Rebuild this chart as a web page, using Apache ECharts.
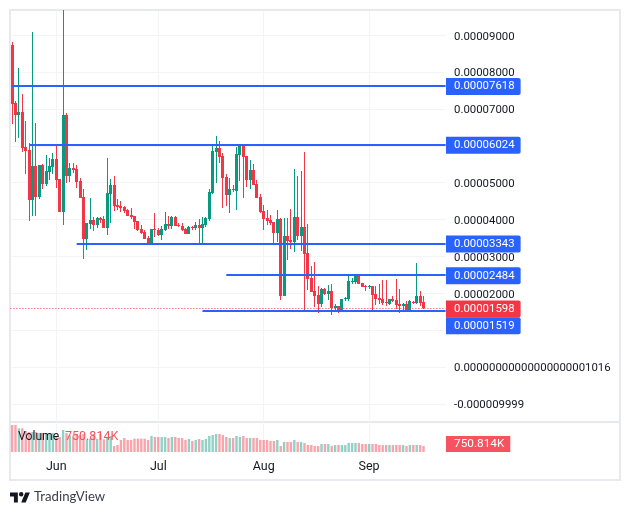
<!DOCTYPE html>
<html><head><meta charset="utf-8">
<style>html,body{margin:0;padding:0;background:#fff}#c{width:630px;height:515px}</style>
<script src="https://cdn.jsdelivr.net/npm/echarts@6/dist/echarts.min.js"></script>
</head><body><div id="c"></div>
<script>
// All prices are in units of 0.00001
const candleOpen=[8.73,7.16,6.84,6.92,5.97,5.89,4.53,5.45,4.61,5.48,4.96,5.29,5.42,5.64,5.10,4.20,6.84,5.18,5.40,5.37,5.05,4.61,3.47,3.88,3.99,3.85,4.04,4.01,3.77,4.69,4.94,4.39,4.37,4.34,4.26,4.12,4.10,3.96,3.74,3.66,3.50,3.34,3.74,3.72,3.58,3.72,3.88,3.82,4.07,3.85,3.82,3.74,3.61,3.80,3.77,3.85,3.77,3.85,4.01,4.72,5.83,5.94,5.72,5.15,4.67,4.83,4.77,5.75,6.02,5.72,5.07,5.34,4.96,4.61,4.23,4.04,3.99,3.93,3.63,4.01,1.93,3.55,3.44,3.39,4.07,3.55,3.80,3.09,2.41,2.06,1.95,1.71,2.12,1.98,2.06,1.60,1.65,1.52,1.84,1.84,2.31,2.31,2.47,2.28,2.20,2.17,2.20,1.98,1.87,1.84,1.76,1.71,1.84,1.82,1.71,1.65,1.71,1.49,1.76,1.74,1.93,1.76];
const candleClose=[7.14,6.84,6.92,5.94,5.86,4.53,5.45,4.61,5.48,4.96,5.32,5.45,5.64,5.07,4.20,6.84,5.18,5.40,5.34,5.02,4.58,3.47,3.91,3.99,3.85,4.04,3.99,3.77,4.72,4.94,4.37,4.34,4.31,4.23,4.10,4.07,3.93,3.72,3.63,3.47,3.34,3.74,3.72,3.58,3.74,3.88,3.82,4.07,3.82,3.82,3.72,3.61,3.80,3.77,3.85,3.77,3.88,4.04,4.75,5.86,5.94,5.70,5.13,4.67,4.83,4.80,5.78,6.02,5.70,5.07,5.34,4.94,4.58,4.20,4.01,3.96,3.91,3.63,4.01,1.93,3.55,3.42,3.39,4.07,3.55,3.80,3.07,2.39,2.03,1.93,1.71,2.12,1.98,2.06,1.60,1.65,1.52,1.84,1.87,2.33,2.33,2.47,2.25,2.17,2.17,2.20,1.95,1.84,1.82,1.74,1.74,1.84,1.79,1.68,1.65,1.71,1.49,1.79,1.74,1.93,1.74,1.598];
const candleLow=[6.59,6.10,6.21,5.83,5.24,3.96,4.10,4.10,4.56,4.83,4.91,5.07,5.24,4.86,4.20,3.85,4.99,5.02,5.26,4.86,4.58,2.93,3.17,3.74,3.69,3.77,3.91,3.77,3.58,3.91,4.23,4.26,4.20,4.18,4.10,4.01,3.74,3.69,3.61,3.47,3.31,3.34,3.53,3.55,3.44,3.69,3.74,3.74,3.82,3.80,3.69,3.61,3.61,3.72,3.72,3.34,3.34,3.80,3.96,4.69,4.99,5.53,4.31,4.37,4.18,4.75,4.26,5.05,4.58,4.88,4.83,4.94,4.58,4.18,3.72,3.85,3.85,3.36,3.39,1.82,1.93,2.90,3.20,3.12,3.44,3.15,1.52,2.09,2.03,1.63,1.46,1.63,1.95,1.82,1.41,1.52,1.46,1.52,1.79,1.79,2.25,2.25,2.25,2.17,2.06,2.12,1.52,1.68,1.71,1.68,1.65,1.68,1.76,1.57,1.46,1.52,1.49,1.49,1.71,1.71,1.65,1.57];
const candleHigh=[8.82,7.22,8.11,7.41,6.67,6.08,9.09,6.62,5.48,5.51,5.75,5.67,5.80,6.05,5.10,9.68,6.89,5.53,5.53,5.48,5.13,4.83,3.91,4.58,4.07,4.07,4.07,4.10,5.67,5.10,5.18,4.56,4.50,4.37,4.29,4.31,4.10,3.96,3.85,3.72,3.55,3.74,4.18,3.77,3.82,4.20,4.10,4.10,4.10,3.91,3.91,3.77,3.82,3.82,3.93,4.01,4.07,4.07,4.83,5.99,6.27,6.13,5.80,5.24,5.13,4.94,5.97,6.05,6.02,5.72,5.61,5.51,5.07,4.69,4.39,4.26,4.12,3.93,4.26,4.04,4.04,4.04,4.29,5.37,5.18,5.32,5.83,3.88,2.74,2.85,2.20,2.14,2.14,2.22,2.25,1.71,1.65,1.84,1.90,2.47,2.41,2.50,2.50,2.28,2.22,2.22,2.20,2.20,2.25,2.36,2.36,1.84,1.93,2.39,2.12,1.74,1.79,1.82,1.79,2.82,2.06,1.93];
// Volume in thousands
const volume=[3375,3375,2960,2960,2625,2500,2500,2500,2375,2375,2375,2375,2375,2000,1875,2750,2375,2085,2085,2290,2085,2250,1585,1670,2250,1670,2250,1585,1875,2000,750,875,1500,1750,1500,1500,1670,1670,1670,1670,1500,2000,1875,1875,1875,1875,1750,1875,1875,1750,1750,1500,1625,1375,1500,1625,1500,1625,2000,2125,2250,2250,2125,1875,1750,1750,2000,1875,2000,1750,1750,1750,1750,1500,1500,1500,1375,1375,1500,750,1250,1250,1250,1500,1250,1250,1125,875,875,750,750,1000,1000,1000,750,875,875,875,875,1125,1125,1125,1125,1000,1000,1000,1000,1000,875,875,875,875,875,875,875,875,750,875,875,875,875,750.814];
const yTickValues=[-1,0,1,2,3,4,5,6,7,8,9];
const yTickLabels=["-0.000009999","0.00000000000000000001016","0.00001000","0.00002000","0.00003000","0.00004000","0.00005000","0.00006000","0.00007000","0.00008000","0.00009000"];
const levelValues=[7.618,6.024,3.343,2.484,1.519];
const levelStart=[0.2,5,18.6,62.6,55.6];
const levelLabelShift=[0,0,0,0,14.5];
const lastPrice=1.598;
const lastVolumeLabel="750.814K";
const categoryCount=128;
const monthFirst={"6-1":"Jun","7-1":"Jul","8-1":"Aug","9-1":"Sep"};

const categories=[];
for(let i=0;i<categoryCount;i++){const d=new Date(Date.UTC(2024,4,19+i));categories.push((d.getUTCMonth()+1)+"-"+d.getUTCDate());}
const isMonth=(i,v)=>!!monthFirst[v];
const UP="#089981",DOWN="#f23645",BLUE="#2962ff",INK="#131722",GRID="#f3f4f6",BORDER="#e8e8ef",VOLRED="#f7525f";
const FONT="Roboto",TICK_FONT="11.4px Roboto";
const ohlcRows=candleOpen.map((o,i)=>[i,o,candleClose[i],candleLow[i],candleHigh[i]]);

echarts.graphic.registerShape("tvlogo",echarts.graphic.extendPath("M14 22H7V11H0V4h14v18zM28 22h-8l7.5-18h8L28 22zM24 7a4 4 0 1 1-8 0 4 4 0 0 1 8 0z",{}));

function renderCandle(params,api){
 const i=api.value(0),o=api.value(1),c=api.value(2),l=api.value(3),h=api.value(4);
 const col=Math.floor(api.coord([i,o])[0]);
 const yO=Math.round(api.coord([i,o])[1]),yC=Math.round(api.coord([i,c])[1]);
 const yH=Math.round(api.coord([i,h])[1]),yL=Math.round(api.coord([i,l])[1]);
 const top=Math.min(yO,yC),bodyH=Math.max(Math.abs(yO-yC),1);
 const color=c>=o?UP:DOWN;
 return {type:"group",children:[
  {type:"rect",shape:{x:col,y:yH,width:1,height:Math.max(yL-yH,1)},style:{fill:color}},
  {type:"rect",shape:{x:col-1,y:top,width:3,height:bodyH},style:{fill:color}}
 ]};
}

const levelRows=levelValues.map((v,i)=>[Math.floor(levelStart[i]),v]).concat([[0,lastPrice]]);
function renderLevel(params,api){
 const i=params.dataIndex,cs=params.coordSys,isLast=i===levelValues.length;
 const v=api.value(1),pt=api.coord([isLast?0:levelStart[i],v]);
 const right=cs.x+cs.width,y=isLast?Math.round(pt[1])+0.5:Math.round(pt[1]);
 const color=isLast?DOWN:BLUE;
 return {type:"group",children:[
  {type:"line",shape:{x1:isLast?cs.x:pt[0],y1:y,x2:right,y2:y},
   style:{stroke:color,lineWidth:isLast?1:2,lineDash:isLast?[1,2]:null}},
  {type:"text",x:right+0.4,y:pt[1]+(isLast?1:levelLabelShift[i]+0.3),z2:10,
   style:{text:(v/1e5).toFixed(8),fill:"#fff",font:TICK_FONT,backgroundColor:color,lineHeight:12,
    padding:[4,6,1,8],borderRadius:[0,2,2,0],verticalAlign:"middle",align:"left"}}
 ]};
}
function renderVolumeLabel(params,api){
 const pt=api.coord([api.value(0),api.value(1)]),cs=params.coordSys;
 return {type:"text",x:cs.x+cs.width+0.4,y:pt[1]-2,
  style:{text:lastVolumeLabel,fill:"#fff",font:"11.8px Roboto",backgroundColor:VOLRED,lineHeight:12,
   padding:[3,6,1,8],verticalAlign:"middle",align:"left"}};
}

const chart=echarts.init(document.getElementById("c"),null,{renderer:"canvas"});
chart.setOption({
 animation:false,
 backgroundColor:"#fff",
 grid:[
  {left:10.4,right:184.4,top:11,height:411},
  {left:10.4,right:184.4,top:424,height:32}
 ],
 xAxis:[
  {type:"category",gridIndex:0,data:categories,boundaryGap:true,axisLine:{show:false},axisTick:{show:false},axisLabel:{show:false},
   splitLine:{show:true,interval:isMonth,alignWithLabel:true,lineStyle:{color:GRID,width:1}}},
  {type:"category",gridIndex:1,data:categories,boundaryGap:true,axisLine:{show:false},axisTick:{show:false},
   axisLabel:{interval:isMonth,formatter:v=>monthFirst[v]||"",color:INK,fontFamily:FONT,fontSize:12.5,margin:4},
   splitLine:{show:true,interval:isMonth,alignWithLabel:true,lineStyle:{color:GRID,width:1}}}
 ],
 yAxis:[
  {type:"value",gridIndex:0,position:"right",min:-1.4917,max:9.6556,
   axisLine:{show:false},
   axisTick:{show:false,customValues:yTickValues},
   axisLabel:{customValues:yTickValues,align:"left",margin:8.4,
    formatter:v=>"{t|"+yTickLabels[yTickValues.indexOf(v)]+"}",
    rich:{t:{color:INK,fontFamily:FONT,fontSize:11.4,padding:[3,0,0,0]}}},
   splitLine:{show:true,lineStyle:{color:GRID,width:1}}},
  {type:"value",gridIndex:1,position:"right",min:-500,max:3500,show:false,splitLine:{show:false}}
 ],
 series:[
  {type:"bar",name:"Volume",xAxisIndex:1,yAxisIndex:1,barWidth:2.4,silent:true,
   data:volume.map((v,i)=>({value:v,itemStyle:{color:candleClose[i]>=candleOpen[i]?"rgba(8,153,129,0.45)":"rgba(242,54,69,0.45)"}}))},
  {type:"custom",name:"VolumeLast",xAxisIndex:1,yAxisIndex:1,silent:true,z:6,clip:false,encode:{x:0,y:1},
   data:[[volume.length-1,volume[volume.length-1]]],renderItem:renderVolumeLabel},
  {type:"custom",name:"Price",xAxisIndex:0,yAxisIndex:0,silent:true,z:3,clip:false,encode:{x:0,y:[1,2,3,4]},
   data:ohlcRows,renderItem:renderCandle},
  {type:"custom",name:"Levels",xAxisIndex:0,yAxisIndex:0,silent:true,z:6,clip:false,encode:{x:0,y:1},
   data:levelRows,renderItem:renderLevel}
 ],
 graphic:[
  {type:"rect",silent:true,z:-1,shape:{x:10,y:10,width:610,height:470},style:{fill:null,stroke:BORDER,lineWidth:2}},
  {type:"line",silent:true,z:-1,shape:{x1:10,y1:422,x2:620,y2:422},style:{stroke:BORDER,lineWidth:2}},
  {type:"text",x:18,y:430.5,z:50,style:{text:"Volume",fill:INK,font:"12.2px "+FONT}},
  {type:"text",x:65,y:430.5,z:50,style:{text:lastVolumeLabel,fill:VOLRED,font:"12.5px "+FONT}},
  {type:"tvlogo",x:10,y:490.3,scaleX:0.56,scaleY:0.56,style:{fill:INK}},
  {type:"text",x:34,y:490,style:{text:"TradingView",fill:"#3a3e4a",font:"13.2px Lato"}}
 ]
});
</script></body></html>
